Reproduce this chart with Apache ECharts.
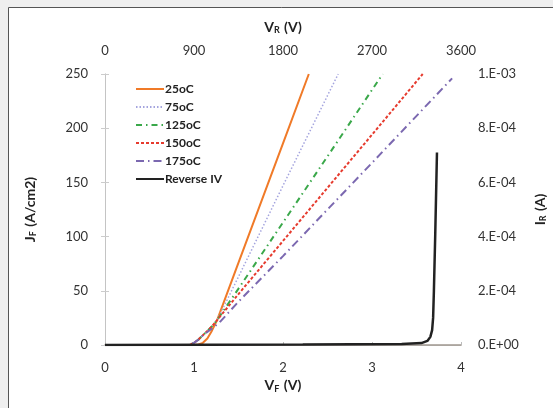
<!DOCTYPE html>
<html>
<head>
<meta charset="utf-8">
<script src="https://cdn.jsdelivr.net/npm/echarts@6/dist/echarts.min.js"></script>
<style>
  html, body { margin: 0; padding: 0; background: #efefef; overflow: hidden; }
  #chart { width: 553px; height: 408px; }
</style>
</head>
<body>
<div id="chart"></div>
<script>
// Forward J-V curves at several temperatures (V_F in V, J_F in A/cm2)
const vf25  = [0, 0.5, 1.0, 1.05, 1.1, 1.15, 1.2, 1.26, 1.5, 2.0, 2.29];
const jf25  = [0, 0, 0, 0.5, 2, 6, 13, 23, 76, 186, 250];
const vf75  = [0, 0.5, 0.95, 1.0, 1.05, 1.1, 1.15, 1.2, 1.26, 1.5, 2.0, 2.62];
const jf75  = [0, 0, 0, 2, 5, 9, 13, 17, 23, 63, 147, 250];
const vf125 = [0, 0.5, 0.95, 1.0, 1.05, 1.1, 1.15, 1.2, 1.26, 1.5, 2.0, 2.5, 3.12];
const jf125 = [0, 0, 0, 2, 5, 9, 13, 17, 23, 52, 113, 174, 250];
const vf150 = [0, 0.5, 0.95, 1.0, 1.05, 1.1, 1.15, 1.2, 1.26, 1.5, 2.0, 2.5, 3.0, 3.57];
const jf150 = [0, 0, 0, 2, 5, 9, 13, 17, 23, 47, 96, 145, 194, 250];
const vf175 = [0, 0.5, 0.95, 1.0, 1.05, 1.1, 1.15, 1.2, 1.3, 1.5, 2.0, 3.0, 3.9];
const jf175 = [0, 0, 0, 2, 5, 9, 12, 15, 22, 40, 82, 168, 246];

// Reverse blocking characteristic (V_R in V, I_R in A)
const vr = [0, 1000, 2000, 3000, 3200, 3260, 3290, 3308, 3318, 3326, 3339, 3357];
const ir = [0, 1e-6, 2e-6, 4e-6, 7e-6, 1.5e-5, 3e-5, 5.5e-5, 1e-4, 2e-4, 4e-4, 7.1e-4];

// Axis tick values
const vfTicks = [0, 1, 2, 3, 4];
const vrTicks = [0, 900, 1800, 2700, 3600];
const jfTicks = [0, 50, 100, 150, 200, 250];
const irTicks = [0, 2e-4, 4e-4, 6e-4, 8e-4, 1e-3];

const legendNames = ['25oC', '75oC', '125oC', '150oC', '175oC', 'Reverse IV'];

const pairs = (xs, ys) => xs.map((x, i) => [x, ys[i]]);

function sci(v) {
  if (Math.abs(v) < 1e-12) return '0.E+00';
  const e = Math.floor(Math.log10(Math.abs(v)) + 1e-9);
  const m = Math.round(v / Math.pow(10, e));
  const es = (e < 0 ? '-' : '+') + String(Math.abs(e)).padStart(2, '0');
  return m + '.E' + es;
}

const FONT = 'Lato, "Open Sans", sans-serif';
const tickLabel = { color: '#333', fontSize: 13, fontFamily: FONT };
const nameRich = {
  m: { fontSize: 14, fontWeight: 'bold', color: '#222', fontFamily: FONT },
  s: { fontSize: 9, fontWeight: 'bold', color: '#222', fontFamily: FONT, padding: [7, 1, 0, 0] }
};

const chart = echarts.init(document.getElementById('chart'), null, { renderer: 'canvas' });

chart.setOption({
  backgroundColor: '#efefef',
  animation: false,
  graphic: [{
    type: 'rect',
    z: -10,
    shape: { x: 8.5, y: 7.5, width: 600, height: 450 },
    style: { fill: '#ffffff', stroke: '#555555', lineWidth: 1 }
  }],
  grid: { left: 105, right: 92, top: 74, bottom: 63, containLabel: false, outerBoundsMode: 'none' },
  legend: {
    orient: 'vertical',
    left: 130,
    top: 78,
    itemWidth: 28,
    itemHeight: 12,
    itemGap: 6,
    selectedMode: false,
    data: legendNames,
    itemStyle: { color: 'transparent', borderWidth: 0 },
    textStyle: { fontSize: 12, fontWeight: 'bold', color: '#222', fontFamily: FONT, padding: [0, 0, 0, -4] }
  },
  xAxis: [{
    type: 'value',
    position: 'bottom',
    min: vfTicks[0], max: vfTicks[vfTicks.length - 1], interval: 1,
    name: '{m|V}{s|F}{m| (V)}',
    nameLocation: 'middle', nameGap: 31,
    nameTextStyle: { rich: nameRich },
    axisLine: { show: true, lineStyle: { color: '#cccccc' } },
    axisTick: { show: false },
    axisLabel: Object.assign({ margin: 16 }, tickLabel),
    splitLine: { show: false }
  }, {
    type: 'value',
    position: 'top',
    min: vrTicks[0], max: vrTicks[vrTicks.length - 1], interval: 900,
    name: '{m|V}{s|R}{m| (V)}',
    nameLocation: 'middle', nameGap: 39,
    nameTextStyle: { rich: nameRich },
    axisLine: { show: true, lineStyle: { color: '#a09890', width: 1.5 } },
    axisTick: { show: true, inside: false, length: 3, lineStyle: { color: '#bbbbbb' } },
    axisLabel: Object.assign({ margin: 17, formatter: v => String(v) }, tickLabel),
    splitLine: { show: false }
  }],
  yAxis: [{
    type: 'value',
    position: 'left',
    min: jfTicks[0], max: jfTicks[jfTicks.length - 1], interval: 50,
    name: '{m|J}{s|F}{m| (A/cm2)}',
    nameLocation: 'middle', nameGap: 67, nameRotate: 90,
    nameTextStyle: { rich: nameRich },
    axisLine: { show: true, lineStyle: { color: '#d4d4d4' } },
    axisTick: { show: true, length: 4, lineStyle: { color: '#cccccc' } },
    axisLabel: Object.assign({ margin: 17 }, tickLabel),
    splitLine: { show: false }
  }, {
    type: 'value',
    position: 'right',
    min: irTicks[0], max: irTicks[irTicks.length - 1], interval: 2e-4,
    name: '{m|I}{s|R}{m| (A)}',
    nameLocation: 'middle', nameGap: 71, nameRotate: 90,
    nameTextStyle: { rich: nameRich },
    axisLine: { show: true, lineStyle: { color: '#c4c4c4' } },
    axisTick: { show: true, length: 4, lineStyle: { color: '#cccccc' } },
    axisLabel: Object.assign({ margin: 17, formatter: sci }, tickLabel),
    splitLine: { show: false }
  }],
  series: [{
    name: '25oC', type: 'line', xAxisIndex: 0, yAxisIndex: 0, symbol: 'none', z: 3,
    lineStyle: { color: '#f07a28', width: 2, type: 'solid' },
    itemStyle: { color: '#f07a28' },
    data: pairs(vf25, jf25)
  }, {
    name: '75oC', type: 'line', xAxisIndex: 0, yAxisIndex: 0, symbol: 'none', z: 3,
    lineStyle: { color: '#a4a4de', width: 1.5, type: [1.5, 2] },
    itemStyle: { color: '#a4a4de' },
    data: pairs(vf75, jf75)
  }, {
    name: '125oC', type: 'line', xAxisIndex: 0, yAxisIndex: 0, symbol: 'none', z: 3,
    lineStyle: { color: '#3aa84a', width: 2, type: [6, 4, 1.5, 4] },
    itemStyle: { color: '#3aa84a' },
    data: pairs(vf125, jf125)
  }, {
    name: '150oC', type: 'line', xAxisIndex: 0, yAxisIndex: 0, symbol: 'none', z: 3,
    lineStyle: { color: '#e63b2e', width: 2, type: [3, 2] },
    itemStyle: { color: '#e63b2e' },
    data: pairs(vf150, jf150)
  }, {
    name: '175oC', type: 'line', xAxisIndex: 0, yAxisIndex: 0, symbol: 'none', z: 3,
    lineStyle: { color: '#7b68b0', width: 2, type: [8, 4, 1.5, 4] },
    itemStyle: { color: '#7b68b0' },
    data: pairs(vf175, jf175)
  }, {
    name: 'Reverse IV', type: 'line', xAxisIndex: 1, yAxisIndex: 1, symbol: 'none', z: 4,
    lineStyle: { color: '#222222', width: 2.5, type: 'solid' },
    itemStyle: { color: '#222222' },
    data: pairs(vr, ir)
  }]
});
</script>
</body>
</html>
